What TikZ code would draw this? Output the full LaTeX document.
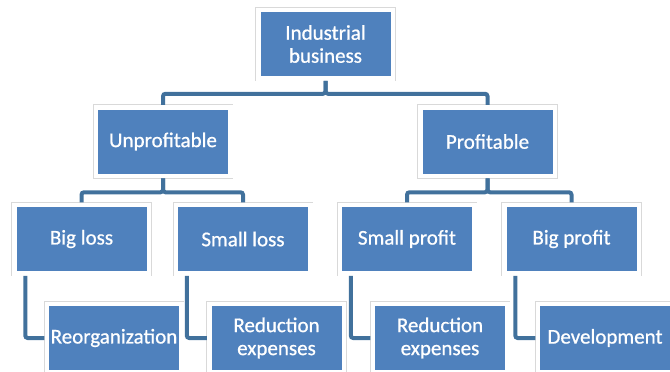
\documentclass[tikz,border=0pt]{standalone}
\usepackage{fontspec}
\setmainfont{Carlito}
\newfontfamily\boxfont{Carlito}[FakeBold=0.8]
\definecolor{boxblue}{RGB}{79,129,189}
\definecolor{lineblue}{RGB}{65,113,156}
\begin{document}
\begin{tikzpicture}[x=1pt,y=-1pt,
  box/.style={rectangle, fill=boxblue, draw=white, line width=4.5pt,
    preaction={draw=black!15, line width=6pt},
    minimum width=134.5pt, minimum height=68.5pt, inner sep=0pt, outer sep=2.5pt,
    text=white, align=center, font=\boxfont\fontsize{21}{23}\selectfont},
  conn/.style={draw=lineblue, line width=4pt, rounded corners=2.5pt}]
\useasboundingbox (0,0) rectangle (670,372);
\clip (0,0) rectangle (670,372);
\node[box] (top) at (325.5,44) {Industrial\\business};
\node[box] (unp) at (163,141.5) {Unprofitable};
\node[box] (pro) at (487.5,141.5) {Profitable};
\node[box] (bl) at (81.5,239) {Big loss};
\node[box] (sl) at (243,239) {Small loss};
\node[box] (sp) at (407,239) {Small profit};
\node[box] (bp) at (571.5,239) {Big profit};
\node[box] (reo) at (114,338) {Reorganization};
\node[box] (re1) at (276.5,338) {Reduction\\expenses};
\node[box] (re2) at (440,338) {Reduction\\expenses};
\node[box] (dev) at (605,338) {Development};
\draw[conn] (top.south) -- ++(0,-13pt) -| (unp.north);
\draw[conn] (top.south) -- ++(0,-13pt) -| (pro.north);
\draw[conn] (unp.south) -- ++(0,-14pt) -| (bl.north);
\draw[conn] (unp.south) -- ++(0,-14pt) -| (sl.north);
\draw[conn] (pro.south) -- ++(0,-14pt) -| (sp.north);
\draw[conn] (pro.south) -- ++(0,-14pt) -| (bp.north);
\draw[conn] ([xshift=13.5pt]bl.south west) |- (reo.west);
\draw[conn] ([xshift=13.5pt]sl.south west) |- (re1.west);
\draw[conn] ([xshift=13.5pt]sp.south west) |- (re2.west);
\draw[conn] ([xshift=13.5pt]bp.south west) |- (dev.west);
\end{tikzpicture}
\end{document}
